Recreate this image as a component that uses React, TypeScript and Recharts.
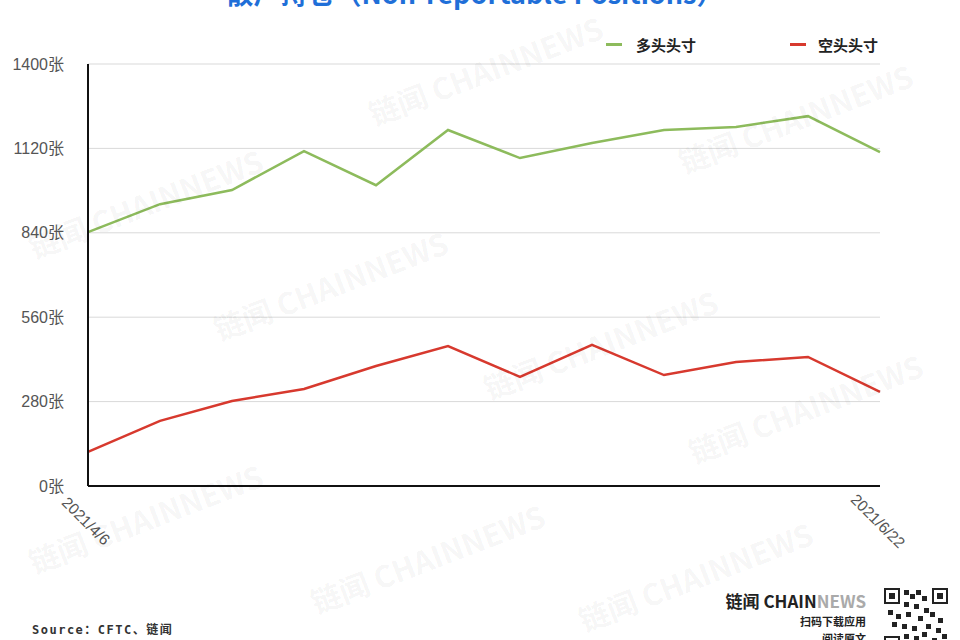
import { CartesianGrid, Line, LineChart, XAxis, YAxis } from 'recharts';

const dates = [
  '2021/4/6', '2021/4/13', '2021/4/20', '2021/4/27', '2021/5/4', '2021/5/11',
  '2021/5/18', '2021/5/25', '2021/6/1', '2021/6/8', '2021/6/15', '2021/6/22'
];
const longPositions = [842, 935, 982, 1111, 998, 1181, 1088, 1138, 1181, 1191, 1227, 1108];
const shortPositions = [113, 216, 282, 322, 398, 464, 362, 468, 368, 411, 428, 312];
const yTicks = [0, 280, 560, 840, 1120, 1400];
const shownDates = ['2021/4/6', '2021/6/22'];

const data = dates.map((date, i) => ({
  date,
  long: longPositions[i],
  short: shortPositions[i]
}));

// faint diagonal watermarks
const watermarks = [
  [490, 82], [800, 130], [150, 215], [335, 297], [605, 356], [810, 420],
  [150, 530], [432, 570], [700, 588]
];

const DateTick = ({ x, y, payload }: any) => {
  if (!shownDates.includes(payload.value)) return null;
  return (
    <g transform={`translate(${x - 2},${y + 27}) rotate(45)`}>
      <text textAnchor="middle" dy="0.35em" fontSize={15.5} fill="#555">
        {payload.value}
      </text>
    </g>
  );
};

const App = () => {
  return (
    <div
      style={{
        position: 'absolute',
        left: 0,
        top: 0,
        width: 960,
        height: 640,
        overflow: 'hidden',
        background: '#fff',
        fontFamily: 'Liberation Sans, "Noto Sans CJK SC", sans-serif'
      }}
    >
      <div
        style={{
          position: 'absolute',
          top: -22,
          left: 0,
          width: 950,
          textAlign: 'center',
          fontSize: 27,
          fontWeight: 'bold',
          color: '#1f6fd8',
          fontFamily: '"Noto Sans CJK SC", sans-serif',
          lineHeight: '30px'
        }}
      >
        散户持仓（Non-reportable Positions）
      </div>

      <LineChart
        width={960}
        height={640}
        data={data}
        margin={{ top: 64, right: 80, left: 0, bottom: 74 }}
      >
        <CartesianGrid vertical={false} stroke="#d9d9d9" strokeWidth={1} />
        <XAxis
          dataKey="date"
          axisLine={{ stroke: '#111', strokeWidth: 2 }}
          tickLine={false}
          interval={0}
          height={80}
          tick={<DateTick />}
        />
        <YAxis
          domain={[0, 1400]}
          ticks={yTicks}
          width={88}
          axisLine={{ stroke: '#111', strokeWidth: 2 }}
          tickLine={false}
          tickMargin={18}
          tick={{ fontSize: 16, fill: '#555' }}
          tickFormatter={(v) => `${v}张`}
        />
        <Line
          type="linear"
          dataKey="long"
          stroke="#8dbb5c"
          strokeWidth={2.5}
          dot={false}
          isAnimationActive={false}
        />
        <Line
          type="linear"
          dataKey="short"
          stroke="#d7392e"
          strokeWidth={2.5}
          dot={false}
          isAnimationActive={false}
        />
      </LineChart>

      <svg
        width={960}
        height={640}
        style={{ position: 'absolute', left: 0, top: 0, pointerEvents: 'none' }}
      >
        {watermarks.map(([x, y], i) => (
          <text
            key={i}
            x={x}
            y={y}
            textAnchor="middle"
            fontSize={30}
            fontWeight="bold"
            fill="#000"
            fillOpacity={0.05}
            transform={`rotate(-21, ${x}, ${y})`}
            fontFamily='"Noto Sans CJK SC", sans-serif'
          >
            链闻 CHAINNEWS
          </text>
        ))}
      </svg>

      <div
        style={{
          position: 'absolute',
          top: 34,
          left: 606,
          display: 'flex',
          alignItems: 'center',
          fontSize: 15,
          fontWeight: 'bold',
          color: '#222',
          fontFamily: '"Noto Sans CJK SC", sans-serif'
        }}
      >
        <span style={{ display: 'inline-block', width: 16, height: 3, background: '#8dbb5c', marginRight: 14 }} />
        <span>多头头寸</span>
        <span style={{ display: 'inline-block', width: 16, height: 3, background: '#d7392e', marginLeft: 94, marginRight: 12 }} />
        <span>空头头寸</span>
      </div>

      <div
        style={{
          position: 'absolute',
          left: 32,
          top: 620,
          fontSize: 12,
          fontWeight: 'bold',
          letterSpacing: 1.5,
          color: '#333',
          fontFamily: '"DejaVu Sans Mono", "Noto Sans CJK SC", monospace'
        }}
      >
        Source：CFTC、链闻
      </div>

      <div
        style={{
          position: 'absolute',
          left: 724,
          top: 590,
          width: 142,
          textAlign: 'right',
          fontFamily: '"Noto Sans CJK SC", sans-serif',
          fontWeight: 'bold',
          color: '#222'
        }}
      >
        <div style={{ fontSize: 17, lineHeight: '22px' }}>
          链闻 CHAIN<span style={{ color: '#aaa' }}>NEWS</span>
        </div>
        <div style={{ fontSize: 11, lineHeight: '18px' }}>扫码下载应用</div>
        <div style={{ fontSize: 11, lineHeight: '16px' }}>阅读原文</div>
      </div>

      <svg width={64} height={54} style={{ position: 'absolute', left: 884, top: 588 }}>
        <rect x={0} y={0} width={64} height={64} fill="#fff" />
        {[[0, 0], [48, 0], [0, 48]].map(([x, y], i) => (
          <g key={i}>
            <rect x={x + 1} y={y + 1} width={14} height={14} fill="none" stroke="#222" strokeWidth={2} />
            <rect x={x + 5} y={y + 5} width={6} height={6} fill="#222" />
          </g>
        ))}
        {[
          [20, 2], [26, 6], [32, 2], [38, 8], [20, 14], [30, 16], [40, 20], [4, 22], [12, 26],
          [22, 24], [34, 28], [46, 24], [54, 30], [8, 34], [18, 36], [28, 38], [42, 36], [52, 40],
          [20, 46], [30, 48], [38, 44], [48, 50], [58, 46]
        ].map(([x, y], i) => (
          <rect key={i} x={x} y={y} width={5} height={5} fill="#222" />
        ))}
      </svg>
    </div>
  );
};

export default App;
